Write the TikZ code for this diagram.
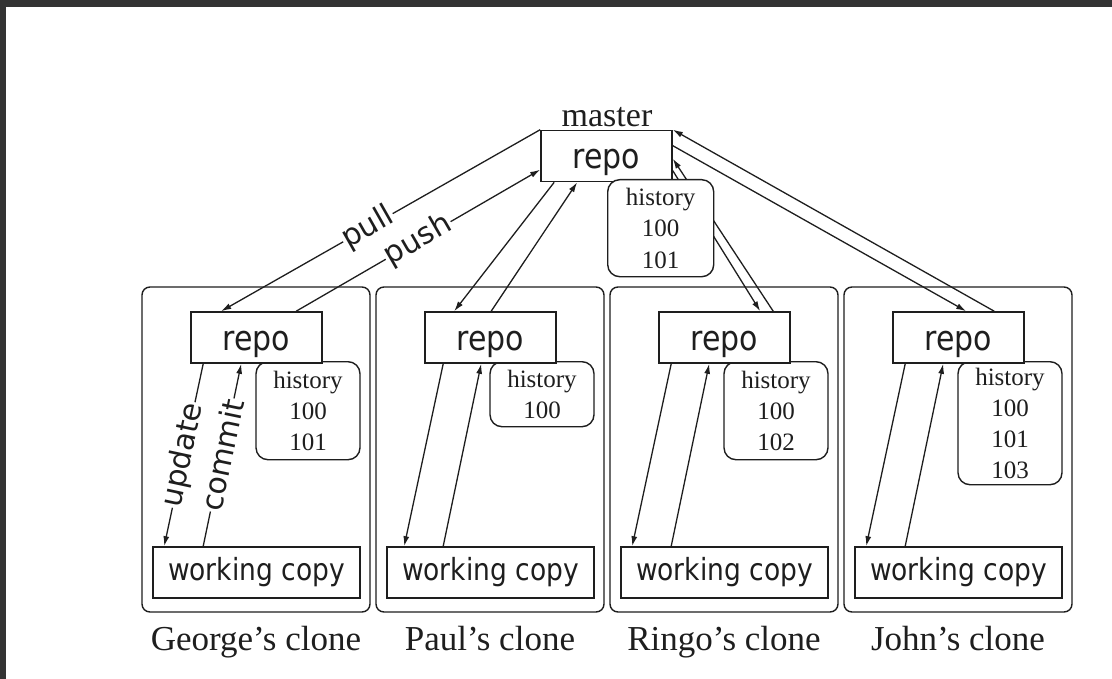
\documentclass[tikz,border=0pt]{standalone}
\usepackage{fontspec}
\usepackage{graphicx}
\setmainfont{Liberation Serif}
\newfontfamily\labelsans{DejaVu Sans}
\newcommand\tallsans[1]{\scalebox{1}[1.15]{#1}}
\usetikzlibrary{arrows.meta,calc}
\definecolor{ink}{HTML}{1E1E1E}
\definecolor{frame}{HTML}{333333}
\begin{document}
\begin{tikzpicture}[x=1bp, y=-1bp,
  every node/.style={text=ink},
  conn/.style={draw=ink, line width=1.3bp, -{Latex[length=10bp,width=6bp]}},
  repobox/.style={draw=ink, fill=white, line width=1.6bp, minimum width=131bp,
    minimum height=51bp, inner sep=0pt, text height=25bp, text depth=0bp,
    font=\labelsans\fontsize{30bp}{30bp}\selectfont},
  wcbox/.style={draw=ink, fill=white, line width=1.6bp, minimum width=207bp,
    minimum height=51bp, inner sep=0pt, text height=21bp, text depth=6bp,
    font=\labelsans\fontsize{26.5bp}{30bp}\selectfont},
  histbox/.style={draw=ink, fill=white, line width=1.4bp, rounded corners=12bp,
    minimum width=104bp, inner sep=0pt, align=center,
    font=\fontsize{25bp}{31bp}\selectfont},
  clonebox/.style={draw=ink, line width=1.4bp, rounded corners=8bp,
    minimum width=228bp, minimum height=325bp, inner sep=0pt},
  clonelabel/.style={anchor=base, font=\fontsize{35bp}{40bp}\selectfont},
  edgelabel/.style={fill=white, inner sep=1bp, sloped,
    font=\labelsans\fontsize{30bp}{30bp}\selectfont}]

% canvas and window frame
\useasboundingbox (0,0) rectangle (1112,679);
\fill[white] (0,0) rectangle (1112,679);
\fill[frame] (0,0) rectangle (1112,7);
\fill[frame] (0,0) rectangle (6,679);

% the clones: frame, repository, history, working copy, caption
\foreach \L/\id/\who/\hh/\hist in {
    142/g/George/98/{history\\100\\101},
    376/p/Paul/65/{history\\100},
    610/r/Ringo/98/{history\\100\\102},
    844/j/John/123/{history\\100\\101\\103}} {
  \node[clonebox] (box\id) at (\L+114, 449.5) {};
  \node[histbox, minimum height=\hh bp, anchor=north] (hist\id) at (\L+166, 361) {\hist};
  \node[repobox] (repo\id) at (\L+114.5, 337.5) {\tallsans{repo}};
  \node[wcbox] (wc\id) at (\L+114.5, 572.5) {\tallsans{working copy}};
  \node[clonelabel] (label\id) at (\L+114, 650) {\who’s clone};
}

% master repository
\node[repobox] (mrepo) at (606.5,156) {\tallsans{repo}};
\node[font=\fontsize{34bp}{36bp}\selectfont] (mlabel) at (607,117) {master};

% update / commit inside each clone
\draw[conn] ($(repog.south west)+(13,0)$) -- node[edgelabel] {update} ($(wcg.north west)+(12,0)$);
\draw[conn] ($(wcg.north west)+(51,0)$) -- node[edgelabel] {commit} ($(repog.south west)+(51,0)$);
\foreach \id/\dx in {p/6, r/0, j/0} {
  \draw[conn] ($(repo\id.south west)+(13+\dx,0)$) -- ($(wc\id.north west)+(12+\dx,0)$);
  \draw[conn] ($(wc\id.north west)+(51+\dx,0)$) -- ($(repo\id.south west)+(51+\dx,0)$);
}

% pull / push between master and the clones
\draw[conn] (mrepo.north west) -- node[edgelabel, pos=0.54] {pull} ($(repog.north west)+(31,0)$);
\draw[conn] ($(repog.north west)+(106,0)$) -- node[edgelabel, pos=0.5] {push} ($(mrepo.north west)+(0,40)$);

\draw[conn] ($(mrepo.south west)+(14,0)$) -- ($(repop.north west)+(30,0)$);
\draw[conn] ($(repop.north west)+(67,0)$) -- ($(mrepo.south west)+(37,0)$);

\draw[conn] ($(mrepo.north east)+(0,41)$) -- ($(repor.north west)+(102,0)$);
\draw[conn] ($(repor.north west)+(115,0)$) -- ($(mrepo.north east)+(0,29)$);

\draw[conn] ($(mrepo.north east)+(0,16)$) -- ($(repoj.north west)+(74,0)$);
\draw[conn] ($(repoj.north west)+(102,0)$) -- (mrepo.north east);

% master history sits over the connectors
\node[histbox, minimum width=106bp, minimum height=97bp, anchor=north west,
  font=\fontsize{25bp}{31.5bp}\selectfont] (mhist) at (607,179) {history\\100\\101};

\end{tikzpicture}
\end{document}
